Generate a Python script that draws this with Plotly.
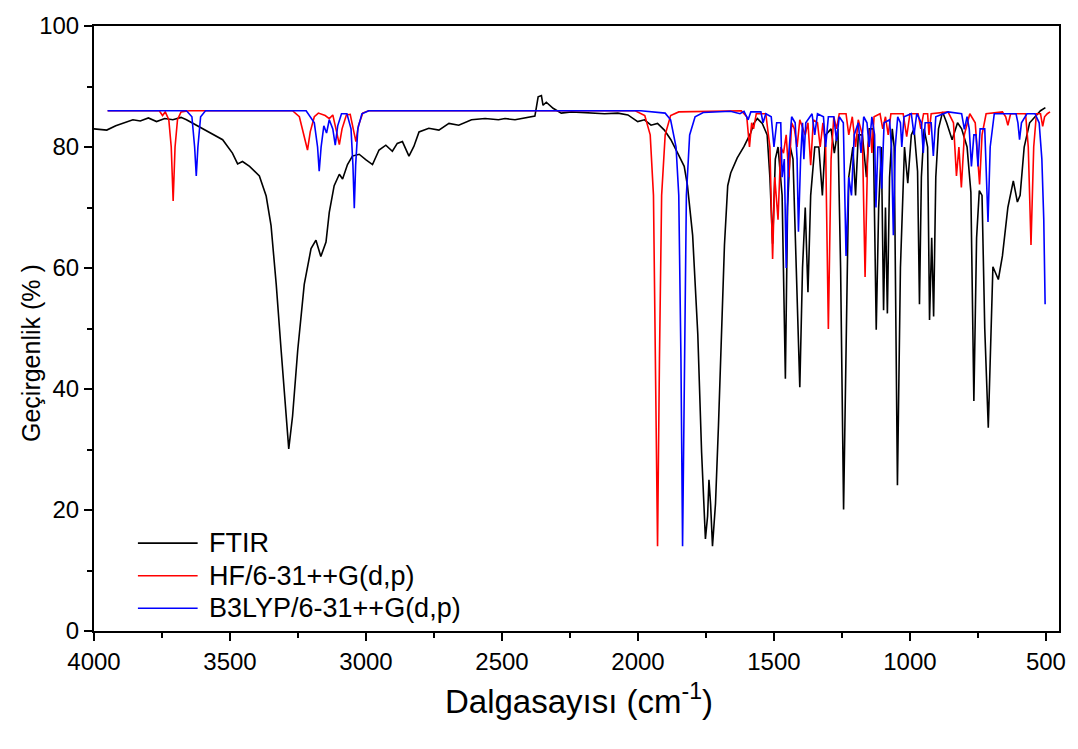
import plotly.graph_objects as go

# ---------------- data ----------------
FTIR_WN = [4000, 3953, 3920, 3893, 3857, 3830, 3800, 3770, 3740, 3710, 3680, 3660, 3624, 3587,
           3555, 3527, 3491, 3472, 3454, 3428, 3392, 3367, 3349, 3330, 3312, 3294, 3284, 3270,
           3251, 3227, 3202, 3184, 3166, 3147, 3135, 3117, 3098, 3086, 3068, 3050, 3025, 3001,
           2976, 2952, 2927, 2903, 2885, 2866, 2842, 2824, 2805, 2769, 2732, 2695, 2659, 2612,
           2562, 2513, 2489, 2452, 2416, 2379, 2367, 2355, 2349, 2337, 2312, 2282, 2245, 2184,
           2123, 2074, 2037, 2001, 1976, 1952, 1928, 1903, 1879, 1854, 1830, 1818, 1799, 1780,
           1766, 1752, 1744, 1739, 1733, 1726, 1715, 1704, 1693, 1682, 1670, 1659, 1635, 1610,
           1586, 1574, 1561, 1543, 1525, 1515, 1505, 1495, 1485, 1470, 1458, 1450, 1440, 1430,
           1418, 1405, 1395, 1385, 1375, 1365, 1350, 1335, 1322, 1310, 1290, 1278, 1265, 1255,
           1244, 1235, 1225, 1210, 1200, 1190, 1175, 1160, 1150, 1135, 1124, 1115, 1105, 1097,
           1090, 1083, 1075, 1065, 1058, 1046, 1035, 1020, 1008, 995, 985, 972, 965, 958, 948,
           935, 928, 920, 913, 905, 895, 880, 865, 845, 825, 810, 790, 776, 765, 755, 745, 735,
           725, 712, 705, 695, 675, 660, 640, 620, 605, 595, 580, 560, 540, 520, 502]
FTIR_T = [83.0, 82.8, 83.5, 83.9, 84.5, 84.3, 84.8, 84.2, 84.7, 84.5, 84.9, 84.5, 83.6, 82.8,
          82.0, 81.2, 79.0, 77.2, 77.6, 76.8, 75.2, 71.9, 67.0, 57.3, 46.4, 35.5, 30.1, 35.5,
          46.4, 57.3, 63.2, 64.6, 61.9, 64.3, 69.2, 73.6, 75.5, 74.7, 77.1, 78.5, 78.8, 77.9,
          77.1, 79.5, 80.3, 79.3, 80.6, 80.9, 78.5, 80.1, 82.5, 83.1, 82.8, 83.9, 83.6, 84.5,
          84.7, 84.5, 84.7, 84.5, 84.8, 85.1, 88.3, 88.5, 86.9, 87.4, 86.4, 85.6, 85.8, 85.6,
          85.5, 85.6, 85.3, 84.2, 84.5, 83.6, 83.9, 82.8, 81.2, 79.0, 76.8, 73.6, 65.4, 49.0,
          29.5, 15.2, 19.0, 25.0, 21.0, 14.0, 21.0, 34.0, 49.0, 63.8, 73.6, 75.7, 78.2, 80.1,
          82.3, 83.9, 84.7, 83.9, 82.0, 75.0, 64.0, 78.0, 80.0, 72.0, 41.7, 70.0, 80.0, 78.0,
          60.0, 40.3, 60.0, 70.0, 56.0, 72.0, 80.0, 80.0, 72.0, 82.0, 83.0, 79.0, 83.0, 60.0,
          20.1, 45.0, 75.0, 80.0, 72.0, 82.0, 82.0, 75.0, 83.0, 83.0, 49.8, 70.0, 80.0, 53.0,
          70.0, 52.5, 75.0, 83.0, 80.0, 24.1, 60.0, 80.0, 74.0, 82.0, 83.0, 76.0, 54.0, 75.0, 83.0,
          80.0, 51.4, 65.0, 52.0, 75.0, 83.0, 85.8, 84.0, 81.2, 84.0, 83.0, 80.0, 72.5, 38.0, 65.0,
          72.8, 72.0, 50.0, 33.6, 45.0, 60.2, 58.1, 62.0, 70.0, 74.4, 70.9, 72.0, 80.0, 84.0, 85.0,
          86.0, 86.5]

HF_WN = [3950, 3760, 3748, 3738, 3725, 3716, 3709, 3702, 3693, 3680, 3650, 3270, 3245, 3228,
         3215, 3205, 3190, 3175, 3150, 3135, 3122, 3108, 3098, 3088, 3072, 3058, 3047, 3037,
         3028, 3012, 2990, 2010, 1975, 1955, 1943, 1935, 1928, 1921, 1913, 1900, 1880, 1850,
         1620, 1600, 1590, 1582, 1575, 1565, 1530, 1515, 1505, 1497, 1485, 1475, 1465, 1455,
         1445, 1435, 1425, 1415, 1405, 1385, 1375, 1365, 1355, 1340, 1330, 1320, 1310, 1300,
         1290, 1280, 1270, 1260, 1235, 1225, 1212, 1200, 1190, 1175, 1165, 1155, 1145, 1140,
         1132, 1110, 1100, 1090, 1080, 1070, 1025, 1012, 1000, 970, 960, 950, 935, 930, 922,
         860, 840, 829, 820, 811, 800, 780, 760, 744, 735, 720, 660, 648, 640, 630, 575, 565,
         555, 545, 535, 520, 512, 505, 495, 485]
HF_T = [86, 86, 85.2, 85.8, 84.5, 80, 71.1, 80, 84.5, 85.8, 86, 86, 85, 82,
        79.5, 82.5, 85, 85.6, 85.2, 84.7, 85.3, 82.5, 80.4, 83, 85.3, 85.4, 83, 80.9,
        83.5, 85.6, 86, 86, 85.2, 82, 72, 45, 14, 45, 72, 82, 85.2, 85.8,
        86, 85, 80, 84, 83, 85.5, 85.5, 80, 61.5, 75, 68, 80, 79, 82,
        75, 84, 83, 80, 84.5, 82, 84, 77, 84.5, 84, 80, 84, 80, 49.9,
        78, 85, 83, 85.5, 85.5, 82, 85, 80, 84.5, 82, 58.5, 80, 83, 79,
        85, 85.5, 83, 85, 82, 85.5, 85.5, 81.7, 85.5, 85.5, 83, 85.5, 85.5, 82, 85.5,
        85.8, 84, 75.2, 80, 73.3, 82, 85.5, 84, 73.8, 82, 85.5, 85.8, 85, 83.6, 85.5, 85.5, 80,
        63.8, 80, 85.5, 85.5, 83.4, 85, 85.5, 85.8]

B3_WN = [3950, 3660, 3640, 3630, 3624, 3618, 3608, 3590, 3220, 3190, 3178, 3172, 3165, 3155,
         3145, 3135, 3122, 3113, 3104, 3090, 3070, 3055, 3048, 3043, 3038, 3030, 3015, 2990,
         1990, 1900, 1880, 1860, 1850, 1842, 1836, 1830, 1822, 1810, 1790, 1760, 1660, 1625,
         1610, 1595, 1585, 1548, 1540, 1530, 1510, 1500, 1490, 1475, 1470, 1462, 1455, 1447,
         1435, 1422, 1415, 1410, 1402, 1395, 1390, 1383, 1360, 1350, 1340, 1318, 1310, 1300,
         1280, 1270, 1260, 1245, 1235, 1225, 1215, 1205, 1190, 1180, 1170, 1158, 1150, 1140,
         1130, 1125, 1118, 1110, 1104, 1095, 1075, 1068, 1061, 1054, 1045, 1035, 1030, 1022,
         995, 985, 975, 958, 951, 944, 922, 914, 905, 860, 810, 800, 790, 782, 774, 765, 757,
         750, 742, 725, 713, 705, 690, 610, 603, 597, 590, 570, 540, 525, 515, 508, 503]
B3_T = [86, 86, 85, 80, 75.2, 80, 85, 86, 86, 84, 80, 76, 80, 83.5,
        82.3, 84.5, 83, 80.3, 83.5, 85.5, 85.5, 83, 77, 69.9, 77, 83, 85.5, 86,
        86, 85.6, 84.5, 80, 72, 45, 14, 45, 72, 82, 85, 85.7, 85.9, 85.5,
        85.9, 84.5, 85.8, 85.8, 84, 85.5, 85, 80, 84, 84, 75, 78, 60, 78,
        85, 84, 78, 66, 78, 84, 78, 84, 85.5, 82, 85.5, 85, 80, 85,
        85, 81, 85, 84, 62, 75, 72, 82, 84, 79, 85, 84, 80, 85,
        82, 70, 80, 80, 73.1, 84, 84.5, 80, 65.4, 80, 85, 84, 80, 85,
        85.5, 82, 85.5, 84, 79, 84, 84, 78.5, 85, 85.8, 85.5, 82.9, 85, 83, 76.8, 82, 82,
        76.8, 83, 83, 67.6, 80, 85.5, 85.5, 84, 81.2, 84, 85.5, 85.5, 84, 78, 68, 54]

SERIES_NAMES = ["FTIR", "HF/6-31++G(d,p)", "B3LYP/6-31++G(d,p)"]
SERIES_COLORS = ["#000000", "#ff0000", "#0000ff"]
X_TICKS = [4000, 3500, 3000, 2500, 2000, 1500, 1000, 500]
Y_TICKS = [0, 20, 40, 60, 80, 100]

FONT = "Arial, 'Liberation Sans', sans-serif"

fig = go.Figure()
for wn, t, name, col in zip([FTIR_WN, HF_WN, B3_WN], [FTIR_T, HF_T, B3_T],
                            SERIES_NAMES, SERIES_COLORS):
    fig.add_trace(go.Scatter(x=wn, y=t, mode="lines", name=name, showlegend=False,
                             line=dict(color=col, width=1.6)))

# legend drawn as paper-anchored key (line sample + label), one row per series
LEG_X0, LEG_X1, LEG_TX = 0.0455, 0.1074, 0.1167
LEG_ROWS = [0.1452, 0.0914, 0.0375]
shapes = []
annotations = []
for name, col, yy in zip(SERIES_NAMES, SERIES_COLORS, LEG_ROWS):
    shapes.append(dict(type="line", xref="paper", yref="paper", x0=LEG_X0, x1=LEG_X1,
                       y0=yy, y1=yy, line=dict(color=col, width=1.6)))
    annotations.append(dict(text=name, xref="paper", yref="paper", x=LEG_TX, y=yy,
                            xanchor="left", yanchor="middle", showarrow=False,
                            font=dict(size=27, family=FONT, color="black")))

annotations += [
    dict(text="Dalgasayısı (cm<sup>-1</sup>)", xref="paper", yref="paper",
         x=0.503, y=-0.112, xanchor="center", yanchor="middle", showarrow=False,
         font=dict(size=33, family=FONT)),
    dict(text="Geçirgenlik (% )", xref="paper", yref="paper",
         x=-0.066, y=0.46, xanchor="center", yanchor="middle", showarrow=False,
         textangle=-90, font=dict(size=25, family=FONT)),
]

fig.update_layout(
    width=1078, height=749,
    margin=dict(l=94, r=16, t=18, b=118),
    paper_bgcolor="white", plot_bgcolor="white",
    font=dict(family=FONT, color="black", size=22),
    showlegend=False,
    xaxis=dict(range=[4000, 452], tickmode="array", tickvals=X_TICKS,
               ticktext=[str(v) for v in X_TICKS],
               showline=True, linecolor="black", linewidth=2, mirror=True,
               ticks="outside", ticklen=8, tickwidth=2, tickcolor="black",
               minor=dict(ticks="outside", ticklen=5, tickwidth=2, tickcolor="black",
                          tickmode="linear", tick0=0, dtick=250),
               showgrid=False, zeroline=False,
               tickfont=dict(size=24, family=FONT)),
    yaxis=dict(range=[0, 100], tickmode="array", tickvals=Y_TICKS,
               showline=True, linecolor="black", linewidth=2, mirror=True,
               ticks="outside", ticklen=8, tickwidth=2, tickcolor="black",
               minor=dict(ticks="outside", ticklen=5, tickwidth=2, tickcolor="black",
                          tickmode="linear", tick0=0, dtick=10),
               showgrid=False, zeroline=False,
               tickfont=dict(size=24, family=FONT)),
    shapes=shapes,
    annotations=annotations,
)

fig.write_html("out.html")
